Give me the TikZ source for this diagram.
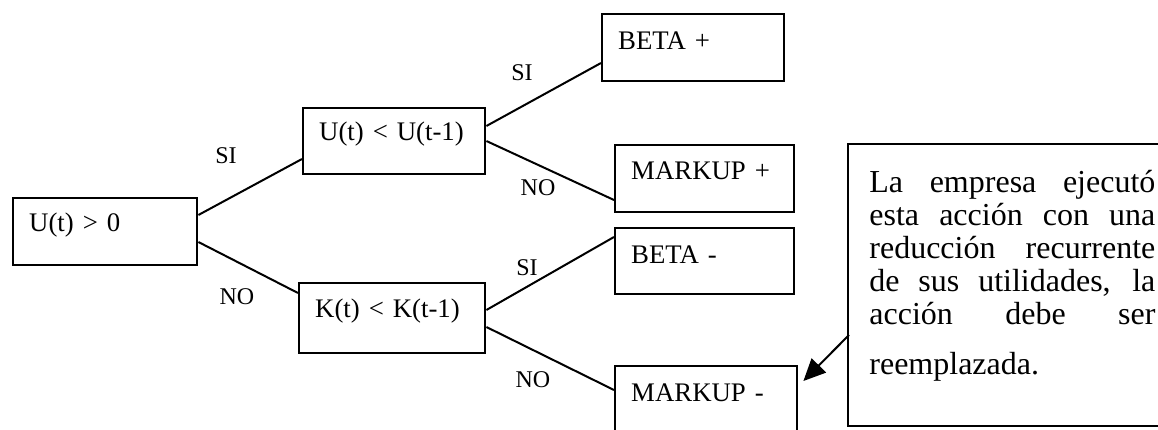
\documentclass[tikz,border=0pt]{standalone}
\usepackage{fontspec}
\setmainfont{Liberation Serif}
\usetikzlibrary{arrows.meta,calc}
\begin{document}
\begin{tikzpicture}[x=0.5pt,y=-0.5pt,
  box/.style={draw, line width=1.2pt, inner xsep=8pt, inner ysep=0pt,
    anchor=north west, align=left, font=\fontsize{13.4}{15}\selectfont},
  notebox/.style={draw, line width=1.2pt, inner sep=0pt, anchor=north west},
  lbl/.style={font=\fontsize{12}{14}\selectfont, inner sep=0pt},
  link/.style={line width=1pt}]
\useasboundingbox (0,0) rectangle (1158,429);
\clip (0,0) rectangle (1158,429);

% decision boxes
\node[box, text width=76pt, text height=16.5pt, text depth=17pt] (b1) at (12,197) {U(t) > 0};
\node[box, text width=75pt, text height=16pt, text depth=17pt] (b2) at (302,107) {U(t) < U(t-1)};
\node[box, text width=77pt, text height=17pt, text depth=18pt] (k) at (298,282) {K(t) < K(t-1)};

% outcome boxes
\node[box, text width=75pt, text height=17.5pt, text depth=16pt] (bp) at (601,13) {BETA +};
\node[box, text width=73.5pt, text height=17pt, text depth=16.5pt] (mp) at (614,144) {MARKUP +};
\node[box, text width=73.5pt, text height=17.5pt, text depth=15.5pt] (bm) at (614,227) {BETA -};
\node[box, text width=75pt, text height=17.5pt, text depth=16pt] (mm) at (614,365) {MARKUP -};

% comment box
\node[notebox, minimum width=161.5pt, minimum height=141pt] (note) at (847,143) {};
\node[anchor=base west, inner sep=0pt] (notetext) at (869,192) {\parbox[t]{143pt}{%
  \fontsize{16}{16.5}\selectfont
  \makebox[\linewidth][s]{La empresa ejecutó}\par
  \makebox[\linewidth][s]{esta acción con una}\par
  \makebox[\linewidth][s]{reducción recurrente}\par
  \makebox[\linewidth][s]{de sus utilidades, la}\par
  \makebox[\linewidth][s]{acción debe ser}\par
  \vspace{8.5pt}reemplazada.}};

% branches
\draw[link] ($(b1.north east)+(0,18)$) -- ($(b2.north west)+(0,52)$);
\draw[link] ($(b1.north east)+(0,45)$) -- ($(k.north west)+(0,11)$);
\draw[link] ($(b2.north east)+(0,19)$) -- ($(bp.north west)+(0,50)$);
\draw[link] ($(b2.north east)+(0,34)$) -- ($(mp.north west)+(0,56)$);
\draw[link] ($(k.north east)+(0,28)$) -- ($(bm.north west)+(0,10)$);
\draw[link] ($(k.north east)+(0,45)$) -- ($(mm.north west)+(0,25)$);

% branch labels
\node[lbl] (si1) at (226,156) {SI};
\node[lbl] (no1) at (237,297) {NO};
\node[lbl] (si2) at (522,73) {SI};
\node[lbl] (no2) at (538,188) {NO};
\node[lbl] (si3) at (527,268) {SI};
\node[lbl] (no3) at (533,380) {NO};

% pointer from the comment
\draw[link, -{Triangle[length=11pt,width=10pt]}] ($(note.north west)+(2,192)$) -- ($(mm.north east)+(5,16)$);
\end{tikzpicture}
\end{document}
